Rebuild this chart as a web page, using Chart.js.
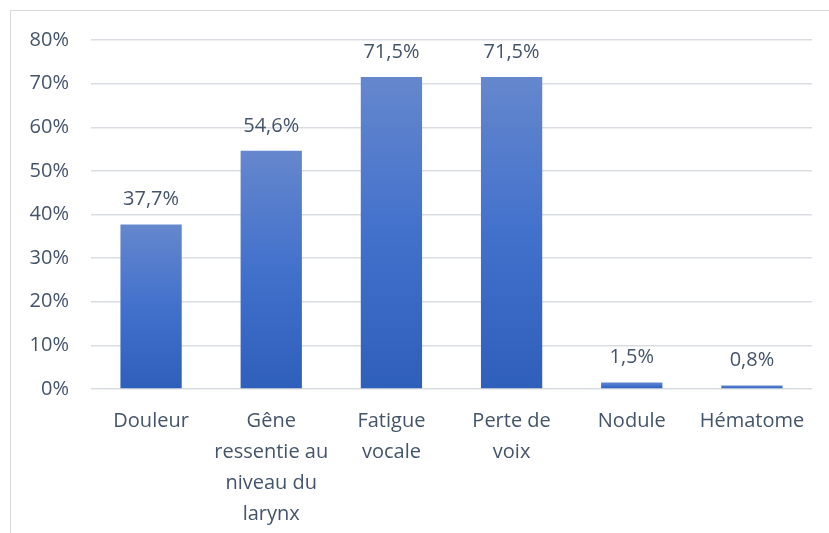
<!DOCTYPE html>
<html>
<head>
<meta charset="utf-8">
<script src="https://cdn.jsdelivr.net/npm/chart.js@4"></script>
<style>
    html, body { margin: 0; padding: 0; background: #fff; overflow: hidden; }
    #wrap { position: relative; width: 829px; height: 533px; }
    #frame { position: absolute; left: 10px; top: 10px; width: 840px; height: 540px; border: 1px solid #d9d9d9; box-sizing: border-box; }
    canvas { position: absolute; left: 0; top: 0; }
</style>
</head>
<body>
<div id="wrap">
    <div id="frame"></div>
    <canvas id="symptomChart" width="829" height="533"></canvas>
</div>
<script>
const categories = [
    'Douleur',
    ['Gêne', 'ressentie au', 'niveau du', 'larynx'],
    ['Fatigue', 'vocale'],
    ['Perte de', 'voix'],
    'Nodule',
    'Hématome'
];
const percentages = [37.7, 54.6, 71.5, 71.5, 1.5, 0.8];
const yTicks = [0, 10, 20, 30, 40, 50, 60, 70, 80];

const textColor = '#44546a';
const fontFamily = "'Open Sans', sans-serif";

// Per-bar vertical gradient: lighter at the top, darker at the base
function barGradient(context) {
    const chart = context.chart;
    const yScale = chart.scales.y;
    if (!chart.chartArea || !yScale) return '#4472c4';
    const value = context.raw;
    const top = yScale.getPixelForValue(value);
    const bottom = yScale.getPixelForValue(0);
    if (!isFinite(top) || bottom - top < 1) return '#3a68c4';
    const g = chart.ctx.createLinearGradient(0, top, 0, bottom);
    g.addColorStop(0, '#6587cd');
    g.addColorStop(0.5, '#4271cc');
    g.addColorStop(1, '#2e5fbb');
    return g;
}

// Value labels above each bar, French decimal comma
const valueLabels = {
    id: 'valueLabels',
    afterDatasetsDraw(chart) {
        const ctx = chart.ctx;
        const meta = chart.getDatasetMeta(0);
        ctx.save();
        ctx.fillStyle = textColor;
        ctx.font = '20px ' + fontFamily;
        ctx.textAlign = 'center';
        ctx.textBaseline = 'middle';
        meta.data.forEach((bar, i) => {
            const text = percentages[i].toFixed(1).replace('.', ',') + '%';
            ctx.fillText(text, bar.x, bar.y - 25);
        });
        ctx.restore();
    }
};

const ctx = document.getElementById('symptomChart').getContext('2d');
new Chart(ctx, {
    type: 'bar',
    data: {
        labels: categories,
        datasets: [{
            data: percentages,
            backgroundColor: barGradient,
            borderWidth: 0,
            categoryPercentage: 1.0,
            barPercentage: 0.51
        }]
    },
    options: {
        responsive: false,
        animation: false,
        layout: {
            padding: { left: 10, right: 17, top: 40, bottom: 0 }
        },
        plugins: {
            legend: { display: false },
            tooltip: { enabled: false }
        },
        scales: {
            x: {
                grid: { display: false },
                border: { display: false },
                ticks: {
                    color: textColor,
                    font: { family: fontFamily, size: 20, lineHeight: 1.55 },
                    padding: 9,
                    maxRotation: 0,
                    autoSkip: false
                },
                afterFit(scale) { scale.height = 144; }
            },
            y: {
                min: 0,
                max: 80,
                afterBuildTicks(scale) {
                    scale.ticks = yTicks.map(v => ({ value: v }));
                },
                grid: {
                    color: '#d9dde2',
                    lineWidth: 1.5,
                    drawTicks: false
                },
                border: { display: false },
                ticks: {
                    color: textColor,
                    font: { family: fontFamily, size: 20 },
                    padding: 22,
                    callback: v => v + '%'
                },
                afterFit(scale) { scale.width = 81; }
            }
        }
    },
    plugins: [valueLabels]
});
</script>
</body>
</html>
